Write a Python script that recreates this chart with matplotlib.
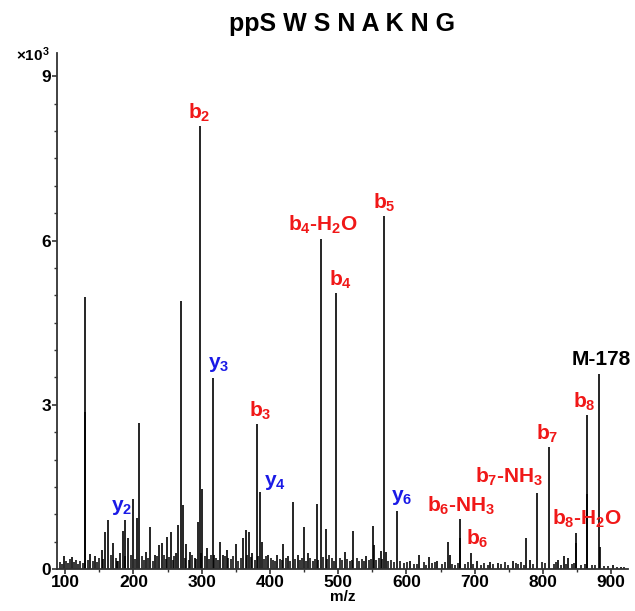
import matplotlib
matplotlib.use('Agg')
import matplotlib.pyplot as plt
from matplotlib.ticker import MultipleLocator, FuncFormatter

# fonts: bold sans everywhere, bold digits in sub/superscripts
plt.rcParams['font.family'] = ['Liberation Sans', 'DejaVu Sans']
plt.rcParams['font.weight'] = 'bold'
plt.rcParams['mathtext.fontset'] = 'custom'
plt.rcParams['mathtext.rm'] = 'Liberation Sans:bold'
plt.rcParams['mathtext.bf'] = 'Liberation Sans:bold'
plt.rcParams['mathtext.it'] = 'Liberation Sans:bold'

title = 'ppS W S N A K N G'

# main peaks (m/z, intensity)
peak_mz = [97.5, 109.8, 128.3, 129.3, 136.6, 143.9, 153.7, 158.6, 163.4, 170.7,
           176.6, 180.5, 184.5, 188.3, 192.7, 199.1, 205.9, 208.8, 218.6, 224.5,
           231.8, 238.0, 241.6, 249.8, 254.8, 262.5, 265.9, 269.4, 272.3, 277.2,
           283.0, 290.3, 294.3, 297.0, 300.1, 307.5, 316.0, 318.2, 327.0, 331.8,
           336.7, 349.9, 361.0, 364.6, 369.8, 374.2, 380.7, 385.5, 388.0, 397.7,
           410.0, 419.6, 427.0, 433.4, 440.7, 450.4, 456.2, 468.5, 474.4, 481.7,
           496.8, 510.0, 522.1, 540.3, 550.5, 552.4, 562.7, 567.1, 570.0, 586.5,
           605.1, 618.7, 633.4, 645.1, 660.3, 663.7, 677.8, 678.3, 694.4, 702.8,
           722.3, 734.4, 756.4, 774.5, 780.8, 791.5, 809.1, 822.3, 830.6, 836.9,
           847.7, 848.5, 864.0, 864.7, 882.3, 883.2, 902.8, 913.6]
peak_int = [229, 211, 4970, 2860, 271, 229, 349, 668, 891, 482,
            138, 289, 692, 903, 560, 1270, 933, 2670, 319, 770,
            259, 440, 470, 578, 680, 289, 800, 4900, 1174, 458,
            319, 199, 861, 8090, 1463, 379, 3480, 259, 500, 259,
            349, 451, 560, 710, 668, 289, 2650, 1415, 500, 259,
            259, 451, 229, 1222, 259, 770, 289, 1192, 6030, 740,
            5050, 319, 692, 229, 789, 440, 331, 6450, 319, 1053,
            138, 259, 211, 150, 500, 259, 560, 921, 289, 138,
            126, 108, 138, 572, 169, 1391, 2220, 169, 229, 199,
            650, 470, 1370, 2810, 3570, 400, 78, 30]

# low-level baseline peaks
noise_mz = [92, 95, 101, 104, 107, 113, 116, 119, 122, 126, 133, 140, 147, 150,
            156, 167, 174, 178, 187, 196, 202, 212, 215, 221, 228, 234, 244, 247,
            252, 258, 260, 276, 281, 286, 292, 299, 305, 311, 313, 321, 324, 334,
            339, 343, 346, 353, 357, 367, 372, 378, 383, 391, 394, 401, 404, 407,
            414, 417, 423, 430, 437, 444, 447, 453, 459, 463, 466, 471, 477, 484,
            487, 491, 494, 502, 505, 513, 517, 520, 527, 531, 535, 538, 545, 548,
            556, 559, 564, 573, 577, 581, 591, 596, 601, 611, 615, 625, 629, 638,
            642, 652, 656, 666, 671, 675, 685, 690, 698, 709, 714, 719, 727, 738,
            744, 749, 760, 764, 768, 772, 786, 799, 803, 816, 819, 826, 833, 842,
            845, 856, 861, 872, 876, 890, 895, 908, 918]
noise_int = [120, 90, 150, 110, 180, 130, 160, 90, 140, 110, 170, 150, 120, 200,
             180, 250, 210, 150, 230, 260, 190, 240, 170, 210, 150, 230, 260, 180,
             220, 170, 240, 200, 160, 250, 180, 300, 230, 190, 260, 210, 170, 240,
             200, 180, 230, 150, 210, 250, 220, 170, 230, 190, 240, 200, 170, 150,
             190, 160, 200, 140, 180, 160, 200, 150, 210, 140, 180, 170, 220, 190,
             260, 200, 150, 210, 170, 190, 140, 170, 200, 150, 180, 140, 170, 190,
             160, 200, 180, 150, 170, 130, 150, 110, 130, 100, 90, 120, 80, 110,
             130, 90, 120, 100, 80, 110, 90, 120, 100, 70, 110, 80, 90, 100,
             130, 80, 110, 90, 120, 80, 100, 130, 110, 90, 120, 80, 100, 90,
             110, 80, 90, 70, 80, 60, 50, 40, 30]

# fragment annotations (text, m/z, intensity, colour)
lab_text = [r'b$_{2}$', r'y$_{3}$', r'b$_{3}$', r'y$_{4}$', r'y$_{2}$',
            r'b$_{4}$-H$_{2}$O', r'b$_{4}$', r'b$_{5}$', r'y$_{6}$',
            r'b$_{6}$-NH$_{3}$', r'b$_{6}$', r'b$_{7}$-NH$_{3}$', r'b$_{7}$',
            r'b$_{8}$', r'b$_{8}$-H$_{2}$O', 'M-178']
lab_mz = [296.4, 324.2, 385.1, 407.0, 182.9, 477.9, 503.3, 567.2, 593.2,
          679.5, 703.1, 750.4, 806.6, 861.0, 864.0, 884.6]
lab_int = [8330, 3730, 2880, 1580, 1130, 6290, 5290, 6680, 1300,
           1160, 560, 1690, 2460, 3060, 910, 3830]
red = '#f01818'
blue = '#1a1ae6'
lab_color = [red, blue, red, blue, blue, red, red, red, blue,
             red, red, red, red, red, red, 'black']

fig = plt.figure(figsize=(6.35, 6.11), dpi=100)
ax = fig.add_axes([0.0898, 0.0687, 0.8997, 0.845])

ax.vlines(noise_mz, 0, noise_int, color='black', lw=1.1)
ax.vlines(peak_mz, 0, peak_int, color='black', lw=1.2)

for t, x, y, c in zip(lab_text, lab_mz, lab_int, lab_color):
    ax.text(x, y, t, color=c, fontsize=15, fontweight='bold',
            ha='center', va='center')

ax.set_xlim(88, 925)
ax.set_ylim(0, 9430)
ax.set_xticks([100, 200, 300, 400, 500, 600, 700, 800, 900])
ax.xaxis.set_minor_locator(MultipleLocator(50))
ax.set_yticks([0, 3000, 6000, 9000])
ax.yaxis.set_minor_locator(MultipleLocator(500))
ax.yaxis.set_major_formatter(FuncFormatter(lambda v, p: '%d' % (v / 1000)))

for s in ['top', 'right']:
    ax.spines[s].set_visible(False)
for s in ['left', 'bottom']:
    ax.spines[s].set_color('#333333')
    ax.spines[s].set_linewidth(1.3)

ax.tick_params(which='major', direction='out', length=3.5, width=1.2,
               color='#333333', labelsize=12.5, pad=1)
ax.tick_params(which='minor', direction='out', length=2.5, width=1.0,
               color='#333333')

ax.set_xlabel('m/z', fontsize=11, fontweight='bold', labelpad=0)
fig.text(0.539, 0.961, title, fontsize=18, fontweight='bold',
         ha='center', va='center')
fig.text(0.052, 0.91, r'×10$^{3}$', fontsize=11, fontweight='bold',
         ha='center', va='center')

plt.savefig('out.png', dpi=100)
